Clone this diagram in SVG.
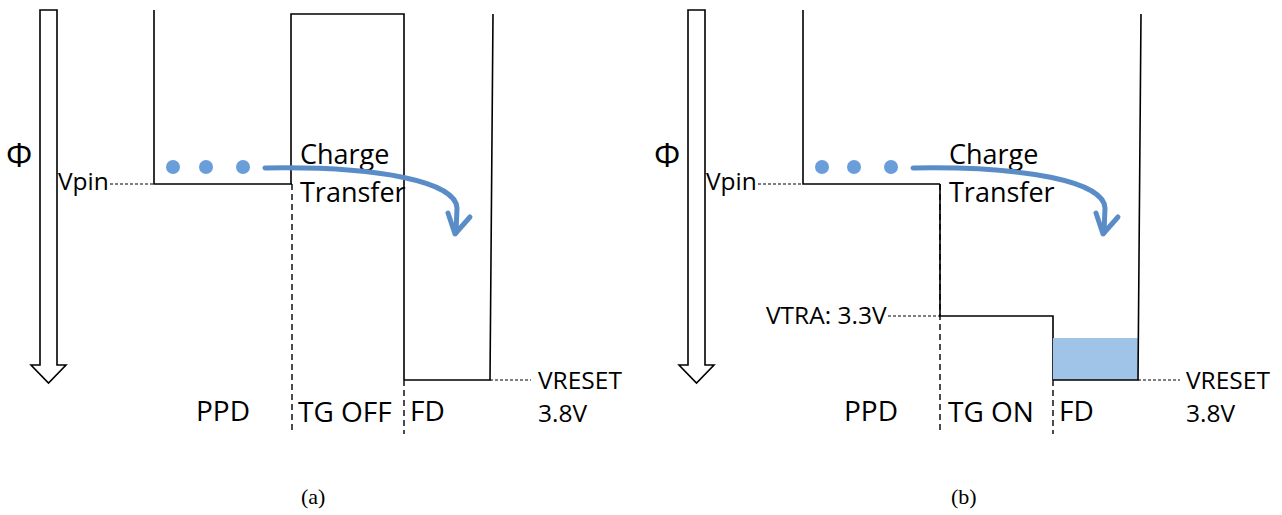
<svg xmlns="http://www.w3.org/2000/svg" width="1282" height="515" viewBox="0 0 1282 515">
<style>
.w{fill:none;stroke:#000;stroke-width:1.6}
.d{fill:none;stroke:#000;stroke-width:1.4;stroke-dasharray:6 4}
.ds{fill:none;stroke:#000;stroke-width:1.2;stroke-dasharray:3 2}
.fl{fill:none;stroke:#5a8dc8;stroke-width:5;stroke-linecap:round;stroke-linejoin:round}
.dot{fill:#6a9edb}
.t{font-family:"Open Sans",sans-serif;fill:#000}
.big{font-size:27px}
.lab{font-size:28px}
.sm{font-size:24.5px}
.phi{font-size:33px}
.cap{font-family:"Liberation Serif",serif;font-size:22px;fill:#000}
</style>
<rect width="1282" height="515" fill="#fff"/>
<g id="panel-a">
  <g id="axis-a">
    <path class="w" d="M40,10 H57 V365 H66 L48.5,383 L31,365 H40 Z"/>
    <text class="t phi" x="6" y="167">Φ</text>
  </g>
  <g id="ppd-a">
    <path class="w" d="M154,10 V184 H292"/>
    <text class="t sm" x="58" y="190">Vpin</text>
    <text class="t lab" x="196" y="421">PPD</text>
  </g>
  <g id="tg-a">
    <path class="w" d="M291,184 V14 H404 V380"/>
    <text class="t lab" x="298" y="422">TG OFF</text>
  </g>
  <g id="fd-a">
    <path class="w" d="M404,380 H490 L493,14"/>
    <text class="t lab" x="410" y="421">FD</text>
    <text class="t sm" x="538" y="389">VRESET</text>
    <text class="t sm" x="538" y="422">3.8V</text>
  </g>
  <g id="charge-a">
    <circle class="dot" cx="173" cy="167" r="7"/>
    <circle class="dot" cx="206" cy="167" r="7"/>
    <circle class="dot" cx="243" cy="167" r="7"/>
    <text class="t big" x="300" y="164">Charge</text>
    <text class="t big" x="300" y="202">Transfer</text>
  </g>
  <text class="cap" x="301" y="504">(a)</text>
</g>
<g id="panel-b">
  <g id="axis-b">
    <path class="w" d="M688,10 H705 V365 H714 L696.5,383 L679,365 H688 Z"/>
    <text class="t phi" x="654" y="167">Φ</text>
  </g>
  <g id="ppd-b">
    <path class="w" d="M803,10 V184 H940"/>
    <text class="t sm" x="706" y="190">Vpin</text>
    <text class="t lab" x="844" y="421">PPD</text>
  </g>
  <g id="tg-b">
    <path class="w" d="M940,184 V316 H1053 V380"/>
    <text class="t sm" x="766" y="324">VTRA: 3.3V</text>
    <text class="t lab" x="948" y="422">TG ON</text>
  </g>
  <g id="fd-b">
    <rect x="1053" y="338" width="85" height="42" fill="#a0c3e8"/>
    <path class="w" d="M1053,380 H1138 L1141,14"/>
    <text class="t lab" x="1059" y="421">FD</text>
    <text class="t sm" x="1186" y="389">VRESET</text>
    <text class="t sm" x="1186" y="422">3.8V</text>
  </g>
  <g id="charge-b">
    <circle class="dot" cx="822" cy="167" r="7"/>
    <circle class="dot" cx="854" cy="167" r="7"/>
    <circle class="dot" cx="891" cy="167" r="7"/>
    <text class="t big" x="949" y="164">Charge</text>
    <text class="t big" x="949" y="202">Transfer</text>
  </g>
  <text class="cap" x="951" y="504">(b)</text>
</g>
<g id="connectors">
  <path class="ds" d="M110,184 H154"/>
  <path class="d" d="M292,184 V432"/>
  <path class="d" d="M404,380 V434"/>
  <path class="ds" d="M490,380 H531"/>
  <path class="fl" d="M265,168 C380,166 456,182 457,208 L456,233"/>
  <path class="fl" d="M448,213 L455,234 L470,217"/>
  <path class="ds" d="M758,184 H803"/>
  <path class="ds" d="M888,316 H940"/>
  <path class="d" d="M940,184 V434"/>
  <path class="d" d="M1053,380 V434"/>
  <path class="ds" d="M1138,380 H1180"/>
  <path class="fl" d="M913,168 C1028,166 1104,182 1105,208 L1104,233"/>
  <path class="fl" d="M1096,213 L1103,234 L1118,217"/>
</g>
</svg>
